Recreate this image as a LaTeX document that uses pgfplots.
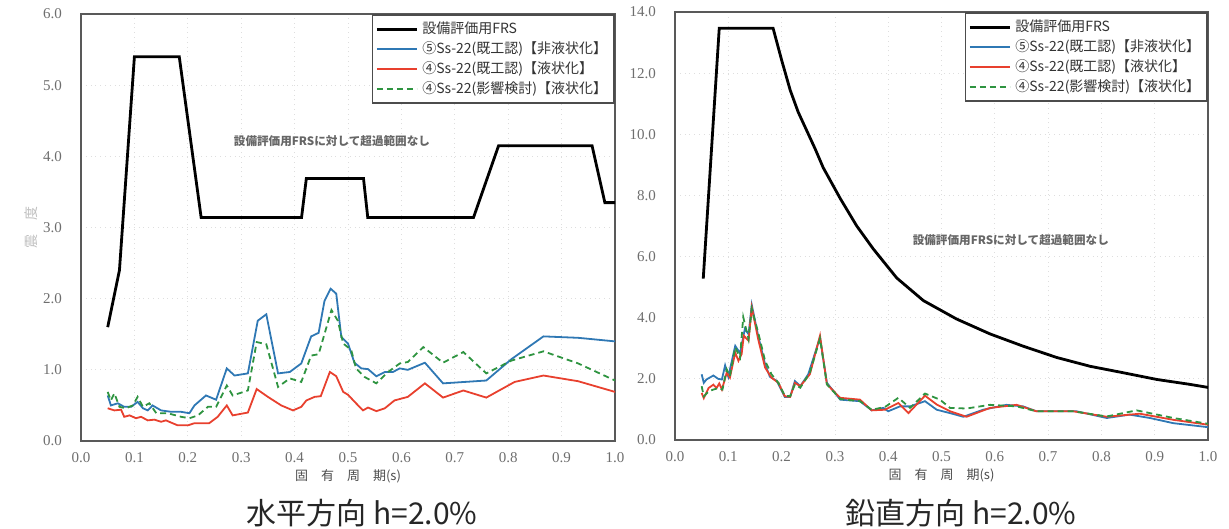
\documentclass[border=0pt]{standalone}
\usepackage{fontspec}
\setmainfont{Liberation Serif}
\newfontfamily\jp{Noto Sans CJK JP}
\usepackage{pgfplots}
\pgfplotsset{compat=1.18}
\definecolor{cblue}{HTML}{2F78B4}
\definecolor{cred}{HTML}{E8402E}
\definecolor{cgreen}{HTML}{2E9440}
\definecolor{tickgray}{HTML}{6E6E6E}
\pgfplotsset{
 frsaxis/.style={
  scale only axis, xmin=0, xmax=1, ymin=0,
  xtick={0,0.1,0.2,0.3,0.4,0.5,0.6,0.7,0.8,0.9,1.0},
  axis line style={draw=black!65, line width=0.9pt},
  major tick length=0pt,
  grid=major, grid style={draw=black!13, dotted, line width=0.4pt},
  ticklabel style={font=\fontsize{7.5}{9}\selectfont, text=tickgray},
  xticklabel style={yshift=-2pt},
  yticklabel style={xshift=-6pt},
  xticklabel={\pgfmathprintnumber[fixed,fixed zerofill,precision=1,assume math mode=true]{\tick}},
  yticklabel={\pgfmathprintnumber[fixed,fixed zerofill,precision=1,assume math mode=true]{\tick}},
  xlabel={\jp\fontsize{6.5}{8}\selectfont 固　有　周　期(s)},
  xlabel style={text=black!70, yshift=3pt},
  legend style={at={(1,1)}, anchor=north east, draw=black!70, line width=0.8pt,
    font=\jp\fontsize{7}{8.5}\selectfont, text=black!80, inner sep=1.5pt, row sep=-1.5pt,
    cells={anchor=west}, fill=white},
  legend image code/.code={\draw[##1] (0pt,0pt) -- (20pt,0pt);},
 }
}
\begin{document}
\begin{tikzpicture}
\path[use as bounding box] (0pt,0pt) rectangle (614.5pt,-264.5pt);
% ---------------- left: horizontal ----------------
\begin{axis}[frsaxis, at={(40.5pt,-220.5pt)}, anchor=south west,
  width=267pt, height=213.5pt, ymax=6, ytick={0,1,2,3,4,5,6},
  ylabel={\jp\fontsize{7}{8}\selectfont 震　度}, ylabel style={text=black!25, yshift=-4pt}]
\addplot[black, line width=1.4pt] coordinates {
(0.05,1.6) (0.072,2.4) (0.100,5.4) (0.184,5.4) (0.225,3.14) (0.413,3.14) (0.422,3.69)
(0.529,3.69) (0.537,3.14) (0.735,3.14) (0.782,4.15) (0.957,4.15) (0.981,3.35) (1.0,3.35)};
\addlegendentry{設備評価用FRS}
\addplot[cblue, line width=0.9pt] coordinates {
(0.050,0.64) (0.056,0.50) (0.069,0.53) (0.081,0.48) (0.094,0.48) (0.106,0.55) (0.116,0.46)
(0.125,0.43) (0.134,0.50) (0.150,0.43) (0.169,0.41) (0.1875,0.41) (0.203,0.39) (0.2125,0.50)
(0.234,0.64) (0.253,0.58) (0.273,1.02) (0.2875,0.92) (0.3125,0.95) (0.331,1.69) (0.347,1.78)
(0.369,0.95) (0.391,0.97) (0.4125,1.09) (0.431,1.47) (0.445,1.52) (0.456,1.97) (0.4675,2.14)
(0.478,2.07) (0.4875,1.46) (0.500,1.37) (0.512,1.10) (0.525,1.02) (0.5375,1.01) (0.553,0.91)
(0.569,0.97) (0.584,0.97) (0.597,1.02) (0.612,1.00) (0.644,1.10) (0.678,0.81) (0.759,0.85)
(0.806,1.15) (0.866,1.47) (0.931,1.45) (1.000,1.40)};
\addlegendentry{⑤Ss-22(既工認)【非液状化】}
\addplot[cred, line width=0.9pt] coordinates {
(0.050,0.46) (0.0625,0.43) (0.075,0.44) (0.081,0.34) (0.091,0.36) (0.103,0.32) (0.1125,0.34)
(0.125,0.29) (0.1375,0.30) (0.150,0.27) (0.159,0.29) (0.181,0.22) (0.200,0.22) (0.2125,0.25)
(0.240,0.25) (0.256,0.34) (0.273,0.50) (0.284,0.36) (0.3125,0.40) (0.329,0.73) (0.350,0.62)
(0.375,0.50) (0.397,0.43) (0.4125,0.48) (0.422,0.57) (0.4375,0.62) (0.449,0.63) (0.466,0.97)
(0.478,0.91) (0.491,0.69) (0.500,0.65) (0.5125,0.55) (0.528,0.43) (0.5375,0.47) (0.553,0.42)
(0.569,0.46) (0.587,0.57) (0.612,0.62) (0.644,0.81) (0.678,0.61) (0.716,0.71) (0.759,0.61)
(0.812,0.83) (0.866,0.92) (0.931,0.84) (1.000,0.69)};
\addlegendentry{④Ss-22(既工認)【液状化】}
\addplot[cgreen, line width=0.9pt, dash pattern=on 3pt off 2pt] coordinates {
(0.050,0.69) (0.056,0.57) (0.0625,0.67) (0.072,0.48) (0.084,0.46) (0.097,0.50) (0.106,0.62)
(0.116,0.48) (0.128,0.53) (0.141,0.39) (0.1625,0.39) (0.1875,0.34) (0.203,0.32) (0.219,0.36)
(0.2375,0.48) (0.253,0.48) (0.273,0.78) (0.284,0.64) (0.3125,0.71) (0.329,1.39) (0.347,1.36)
(0.369,0.76) (0.391,0.88) (0.4125,0.83) (0.431,1.20) (0.445,1.22) (0.469,1.84) (0.481,1.69)
(0.491,1.37) (0.506,1.28) (0.515,1.02) (0.531,0.90) (0.553,0.81) (0.575,0.97) (0.597,1.09)
(0.612,1.11) (0.641,1.32) (0.678,1.10) (0.716,1.25) (0.759,0.95) (0.806,1.13) (0.866,1.26)
(0.931,1.09) (1.000,0.85)};
\addlegendentry{④Ss-22(影響検討)【液状化】}
\node[font=\jp\bfseries\fontsize{5.8}{7}\selectfont, text=black!60] at (axis cs:0.47,4.21) {設備評価用FRSに対して超過範囲なし};
\end{axis}
% ---------------- right: vertical ----------------
\begin{axis}[frsaxis, at={(337.5pt,-220pt)}, anchor=south west,
  width=266.5pt, height=214pt, ymax=14, ytick={0,2,4,6,8,10,12,14}]
\addplot[black, line width=1.4pt] coordinates {
(0.053,5.28) (0.083,13.47) (0.184,13.47) (0.200,12.43) (0.216,11.45) (0.231,10.73) (0.263,9.52)
(0.278,8.91) (0.310,7.90) (0.341,7.00) (0.372,6.25) (0.416,5.30) (0.466,4.56) (0.528,3.96)
(0.591,3.47) (0.653,3.07) (0.716,2.70) (0.779,2.41) (0.841,2.20) (0.904,1.98) (0.966,1.82) (1.0,1.72)};
\addlegendentry{設備評価用FRS}
\addplot[cblue, line width=0.9pt] coordinates {
(0.050,2.15) (0.054,1.87) (0.059,1.98) (0.072,2.11) (0.081,2.00) (0.088,1.98) (0.094,2.44)
(0.100,2.07) (0.113,3.08) (0.122,2.84) (0.131,3.63) (0.138,3.46) (0.144,4.42) (0.156,3.41)
(0.169,2.48) (0.178,2.07) (0.191,1.93) (0.206,1.41) (0.216,1.41) (0.225,1.93) (0.235,1.76)
(0.250,2.15) (0.272,3.35) (0.285,1.87) (0.310,1.32) (0.347,1.27) (0.369,0.97) (0.391,1.05)
(0.400,0.94) (0.422,1.10) (0.441,1.10) (0.469,1.27) (0.491,0.99) (0.516,0.88) (0.541,0.76)
(0.578,0.99) (0.622,1.15) (0.653,1.10) (0.678,0.94) (0.753,0.94) (0.810,0.72) (0.853,0.83)
(0.891,0.72) (0.935,0.55) (1.000,0.42)};
\addlegendentry{⑤Ss-22(既工認)【非液状化】}
\addplot[cred, line width=0.9pt] coordinates {
(0.050,1.54) (0.054,1.37) (0.063,1.70) (0.072,1.81) (0.078,1.70) (0.083,1.85) (0.088,1.65)
(0.097,2.20) (0.103,2.04) (0.113,2.86) (0.119,2.59) (0.125,2.81) (0.129,3.41) (0.138,3.25)
(0.144,4.34) (0.156,3.30) (0.169,2.37) (0.181,2.04) (0.194,1.87) (0.206,1.43) (0.216,1.41)
(0.225,1.87) (0.235,1.76) (0.253,2.15) (0.272,3.41) (0.285,1.82) (0.310,1.38) (0.347,1.32)
(0.369,0.97) (0.394,0.99) (0.419,1.21) (0.438,0.88) (0.469,1.45) (0.491,1.16) (0.516,0.94)
(0.547,0.76) (0.591,1.05) (0.641,1.15) (0.678,0.94) (0.747,0.94) (0.810,0.76) (0.872,0.86)
(0.935,0.66) (1.000,0.50)};
\addlegendentry{④Ss-22(既工認)【液状化】}
\addplot[cgreen, line width=0.9pt, dash pattern=on 3pt off 2pt] coordinates {
(0.050,1.76) (0.054,1.43) (0.063,1.59) (0.072,1.65) (0.081,1.70) (0.089,1.65) (0.097,2.31)
(0.103,2.09) (0.113,3.03) (0.122,2.70) (0.128,4.02) (0.138,3.30) (0.144,4.29) (0.156,3.52)
(0.169,2.59) (0.181,2.15) (0.194,1.87) (0.206,1.45) (0.216,1.43) (0.225,1.82) (0.235,1.71)
(0.253,2.20) (0.272,3.32) (0.285,1.82) (0.310,1.34) (0.347,1.27) (0.369,0.99) (0.394,1.08)
(0.419,1.38) (0.441,1.05) (0.469,1.52) (0.497,1.32) (0.516,1.05) (0.547,1.03) (0.591,1.15)
(0.641,1.10) (0.678,0.94) (0.747,0.94) (0.810,0.77) (0.866,0.97) (0.935,0.72) (1.000,0.53)};
\addlegendentry{④Ss-22(影響検討)【液状化】}
\node[font=\jp\bfseries\fontsize{5.8}{7}\selectfont, text=black!60] at (axis cs:0.63,6.53) {設備評価用FRSに対して超過範囲なし};
\end{axis}
% ---------------- titles ----------------
\node[font=\jp\fontsize{15}{18}\selectfont, text=black!85] at (181pt,-256.5pt) {水平方向 h=2.0\%};
\node[font=\jp\fontsize{15}{18}\selectfont, text=black!85] at (480.5pt,-256.5pt) {鉛直方向 h=2.0\%};
\end{tikzpicture}
\end{document}
